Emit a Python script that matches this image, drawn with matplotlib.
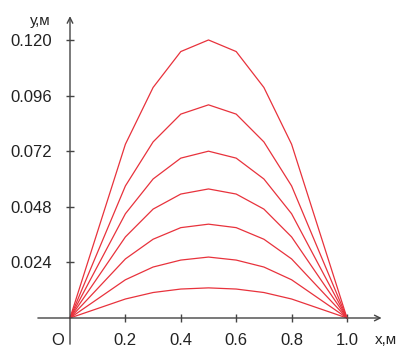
import matplotlib.pyplot as plt

plt.rcParams['font.family'] = ['Liberation Sans', 'DejaVu Sans']

# x positions of the polyline vertices
x = [0.0, 0.2, 0.3, 0.4, 0.5, 0.6, 0.7, 0.8, 1.0]

# deflection curves (metres)
y1 = [0, 0.075, 0.0995, 0.115, 0.120, 0.115, 0.0995, 0.075, 0]
y2 = [0, 0.057, 0.076, 0.088, 0.092, 0.088, 0.076, 0.057, 0]
y3 = [0, 0.045, 0.060, 0.069, 0.072, 0.069, 0.060, 0.045, 0]
y4 = [0, 0.035, 0.047, 0.0535, 0.0557, 0.0535, 0.047, 0.035, 0]
y5 = [0, 0.0255, 0.034, 0.039, 0.0405, 0.039, 0.034, 0.0255, 0]
y6 = [0, 0.0165, 0.022, 0.025, 0.0263, 0.025, 0.022, 0.0165, 0]
y7 = [0, 0.0082, 0.011, 0.0125, 0.013, 0.0125, 0.011, 0.0082, 0]
curves = [y1, y2, y3, y4, y5, y6, y7]

xticks = [0.2, 0.4, 0.6, 0.8, 1.0]
xlabels = ['0.2', '0.4', '0.6', '0.8', '1.0']
yticks = [0.024, 0.048, 0.072, 0.096, 0.120]
ylabels = ['0.024', '0.048', '0.072', '0.096', '0.120']

fig = plt.figure(figsize=(4.01, 3.49), dpi=100)
ax = fig.add_axes([0, 0, 1, 1])
ax.set_xlim(-0.2527, 1.195)
ax.set_ylim(-0.01338, 0.13725)

for c in curves:
    ax.plot(x, c, color='#e8323c', lw=0.9)

# axes with arrows
axis_col = '#444444'
ax.annotate('', xy=(1.135, 0), xytext=(-0.126, 0),
            arrowprops=dict(arrowstyle='->', color=axis_col, lw=1, mutation_scale=10))
ax.annotate('', xy=(0, 0.1315), xytext=(0, -0.0125),
            arrowprops=dict(arrowstyle='->', color=axis_col, lw=1, mutation_scale=10))

for s in ax.spines.values():
    s.set_visible(False)
ax.spines['left'].set_position(('data', 0))
ax.spines['bottom'].set_position(('data', 0))

ax.set_xticks(xticks)
ax.set_xticklabels(xlabels)
ax.set_yticks(yticks)
ax.set_yticklabels(ylabels)
ax.tick_params(direction='inout', length=6, width=1, color=axis_col,
               labelsize=12, labelcolor='#222222')
ax.tick_params(axis='x', pad=8)
ax.tick_params(axis='y', pad=10)

ax.text(-0.045, -0.0095, 'O', fontsize=12, ha='center', va='center', color='#222222')
ax.text(1.14, -0.0095, 'х,м', fontsize=11, ha='center', va='center', color='#222222')
ax.text(-0.106, 0.128, 'у,м', fontsize=11, ha='center', va='center', color='#222222')

fig.savefig('out.png', dpi=100)
